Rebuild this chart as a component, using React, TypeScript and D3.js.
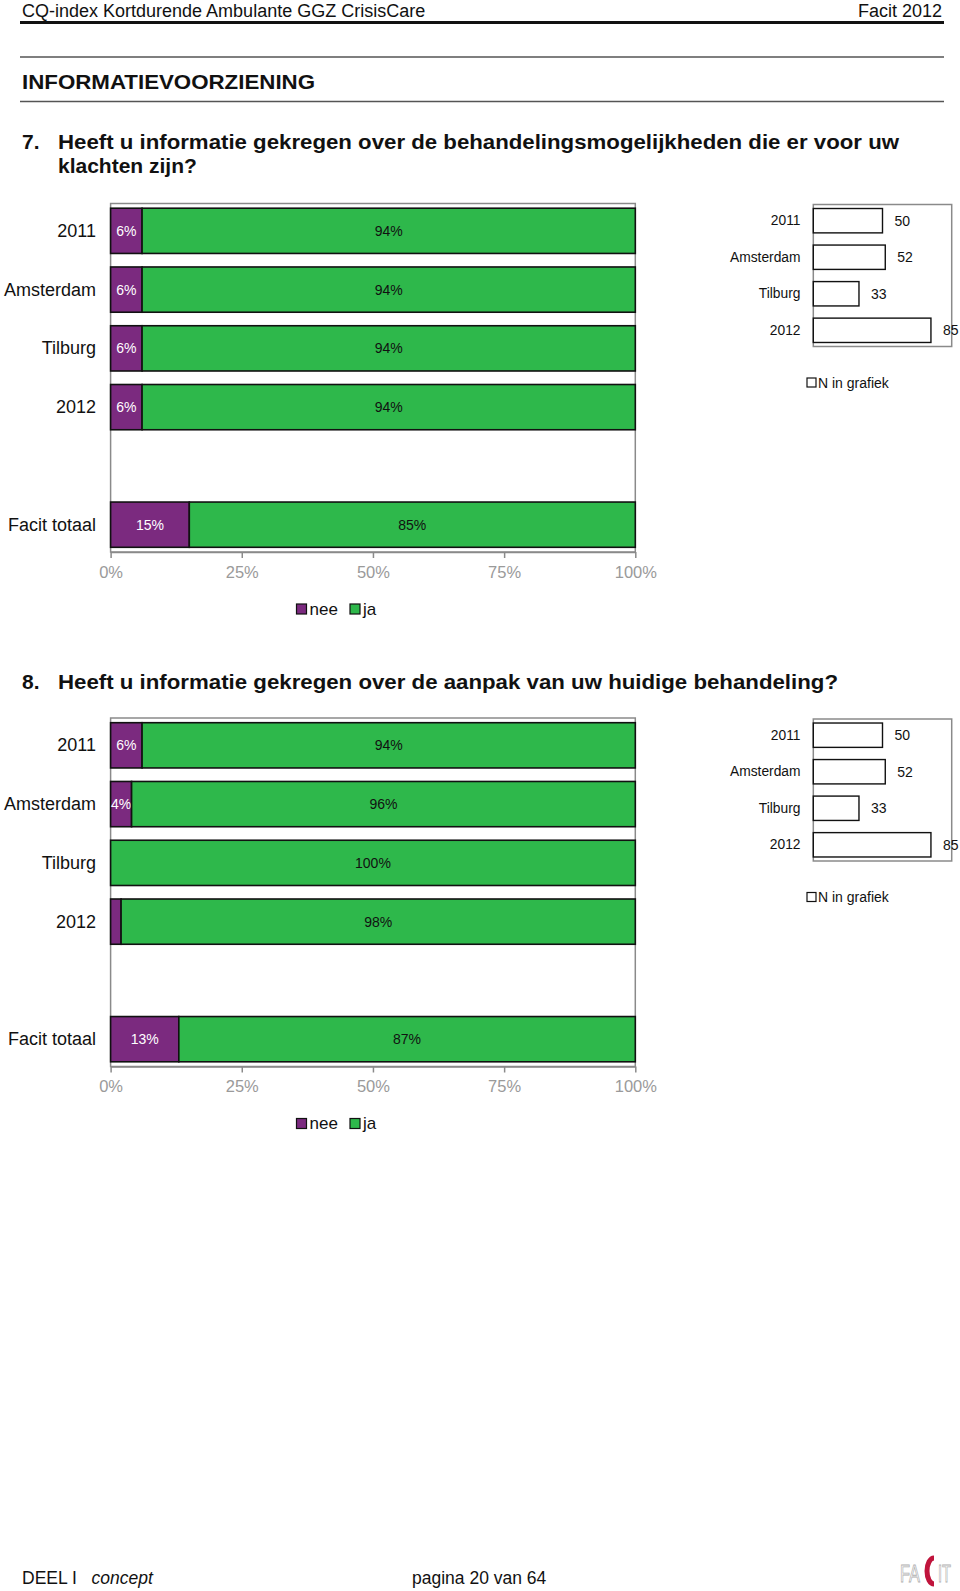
import React, { useRef, useEffect } from "react";
import * as d3 from "d3";

// rows of the stacked chart (the empty band between 2012 and Facit totaal is a spacer)
const categories = ["2011", "Amsterdam", "Tilburg", "2012", "Facit totaal"];
const bandDomain = ["2011", "Amsterdam", "Tilburg", "2012", "_gap", "Facit totaal"];
const seriesKeys = ["nee", "ja"];
const seriesColors = ["#7b2a7f", "#2eb84b"];
const labelColors = ["#ffffff", "#111111"];

const q7Nee = [6, 6, 6, 6, 15];
const q7Ja = [94, 94, 94, 94, 85];
const q8Nee = [6, 4, 0, 2, 13];
const q8Ja = [94, 96, 100, 98, 87];

// small N chart on the right
const nCategories = ["2011", "Amsterdam", "Tilburg", "2012"];
const q7N = [50, 52, 33, 85];
const q8N = [50, 52, 33, 85];

const xTicks = [0, 25, 50, 75, 100];

const FONT = "'Liberation Sans', Arial, Helvetica, sans-serif";

const StackedChart = ({ nee, ja }: { nee: number[]; ja: number[] }) => {
  const axisRef = useRef<SVGGElement>(null);

  const x = d3.scaleLinear().domain([0, 100]).range([110.6, 635.3]);
  const y = d3
    .scaleBand()
    .domain(bandDomain)
    .range([203.5, 552])
    .paddingInner(0.23)
    .paddingOuter(0.08);

  const rows = categories.map((c, i) => ({ cat: c, nee: nee[i], ja: ja[i] }));
  const stacked = d3.stack<any>().keys(seriesKeys)(rows);

  useEffect(() => {
    const g = d3.select(axisRef.current);
    g.selectAll("*").remove();
    g.call(
      d3
        .axisBottom(x)
        .tickValues(xTicks)
        .tickFormat((d) => d + "%")
        .tickSizeInner(6)
        .tickSizeOuter(0)
        .tickPadding(8)
    );
    g.attr("font-family", FONT).attr("font-size", 16.5);
    g.select(".domain").attr("stroke", "#8a8a8a").attr("stroke-width", 1.5);
    g.selectAll(".tick line").attr("stroke", "#8a8a8a").attr("stroke-width", 1.5);
    g.selectAll(".tick text").attr("fill", "#9a9a9a");
  }, [nee, ja]);

  const [x0, x1] = x.range();
  const [y0, y1] = y.range();

  return (
    <g>
      {/* plot frame */}
      <rect
        x={x0}
        y={y0}
        width={x1 - x0}
        height={y1 - y0}
        fill="none"
        stroke="#8a8a8a"
        strokeWidth={1.5}
      />
      {categories.map((c) => (
        <text
          key={c}
          x={96}
          y={(y(c) as number) + y.bandwidth() / 2}
          textAnchor="end"
          dominantBaseline="central"
          fontSize={18}
          fontFamily={FONT}
          fill="#111"
        >
          {c}
        </text>
      ))}
      {stacked.map((s, si) =>
        s.map((d: any, i) => {
          const v = d[1] - d[0];
          if (v <= 0) return null;
          const yy = y(categories[i]) as number;
          return (
            <g key={si + "-" + i}>
              <rect
                x={x(d[0])}
                y={yy}
                width={x(d[1]) - x(d[0])}
                height={y.bandwidth()}
                fill={seriesColors[si]}
                stroke="#111"
                strokeWidth={1.6}
              />
              {v >= 3 && (
                <text
                  x={(x(d[0]) + x(d[1])) / 2}
                  y={yy + y.bandwidth() / 2}
                  textAnchor="middle"
                  dominantBaseline="central"
                  fontSize={14}
                  fontFamily={FONT}
                  fill={labelColors[si]}
                >
                  {v + "%"}
                </text>
              )}
            </g>
          );
        })
      )}
      <g ref={axisRef} transform={`translate(0,${y1})`} />
      {/* legend */}
      {seriesKeys.map((k, i) => {
        const lx = [296.5, 350][i];
        return (
          <g key={k}>
            <rect
              x={lx}
              y={604}
              width={10}
              height={10}
              fill={seriesColors[i]}
              stroke="#111"
              strokeWidth={1.2}
            />
            <text
              x={lx + 13}
              y={609}
              dominantBaseline="central"
              fontSize={17}
              fontFamily={FONT}
              fill="#111"
            >
              {k}
            </text>
          </g>
        );
      })}
    </g>
  );
};

const NChart = ({ values }: { values: number[] }) => {
  const x = d3.scaleLinear().domain([0, 100]).range([813.3, 951.7]);
  const y = d3
    .scaleBand()
    .domain(nCategories)
    .range([204.5, 346.5])
    .paddingInner(1 / 3)
    .paddingOuter(0.11);
  const [x0, x1] = x.range();
  const [y0, y1] = y.range();
  return (
    <g fontFamily={FONT}>
      <rect
        x={x0}
        y={y0}
        width={x1 - x0}
        height={y1 - y0}
        fill="none"
        stroke="#8a8a8a"
        strokeWidth={1.5}
      />
      {nCategories.map((c, i) => {
        const yy = y(c) as number;
        const cy = yy + y.bandwidth() / 2;
        return (
          <g key={c}>
            <text
              x={800.5}
              y={cy}
              textAnchor="end"
              dominantBaseline="central"
              fontSize={13.8}
              fill="#111"
            >
              {c}
            </text>
            <rect
              x={x(0)}
              y={yy}
              width={x(values[i]) - x(0)}
              height={y.bandwidth()}
              fill="#fff"
              stroke="#111"
              strokeWidth={1.4}
            />
            <text
              x={x(values[i]) + 12}
              y={cy}
              dominantBaseline="central"
              fontSize={14}
              fill="#111"
            >
              {values[i]}
            </text>
          </g>
        );
      })}
      <rect x={807} y={378} width={9} height={9} fill="#fff" stroke="#111" strokeWidth={1.2} />
      <text x={818} y={382.6} dominantBaseline="central" fontSize={14} fill="#111">
        N in grafiek
      </text>
    </g>
  );
};

const App = () => {
  return (
    <svg
      width={960}
      height={1591}
      style={{ position: "absolute", left: 0, top: 0, background: "#fff" }}
      fontFamily={FONT}
    >
      <rect x={0} y={0} width={960} height={1591} fill="#fff" />
      {/* page header */}
      <text x={22} y={16.5} fontSize={18} fill="#111">
        CQ-index Kortdurende Ambulante GGZ CrisisCare
      </text>
      <text x={942} y={16.5} fontSize={18} fill="#111" textAnchor="end">
        Facit 2012
      </text>
      <line x1={20} x2={944} y1={22.5} y2={22.5} stroke="#111" strokeWidth={3} />
      <line x1={20} x2={944} y1={57} y2={57} stroke="#555" strokeWidth={1.5} />
      <text
        x={22}
        y={89}
        fontSize={21}
        fontWeight="bold"
        fill="#111"
        textLength={293}
        lengthAdjust="spacingAndGlyphs"
      >
        INFORMATIEVOORZIENING
      </text>
      <line x1={20} x2={944} y1={101.5} y2={101.5} stroke="#555" strokeWidth={1.5} />

      {/* question 7 */}
      <text x={22} y={148.5} fontSize={21} fontWeight="bold" fill="#111">
        7.
      </text>
      <text
        x={58}
        y={148.5}
        fontSize={21}
        fontWeight="bold"
        fill="#111"
        textLength={841}
        lengthAdjust="spacingAndGlyphs"
      >
        Heeft u informatie gekregen over de behandelingsmogelijkheden die er voor uw
      </text>
      <text x={58} y={173} fontSize={21} fontWeight="bold" fill="#111">
        klachten zijn?
      </text>
      <g>
        <StackedChart nee={q7Nee} ja={q7Ja} />
        <NChart values={q7N} />
      </g>

      {/* question 8 */}
      <text x={22} y={688.5} fontSize={21} fontWeight="bold" fill="#111">
        8.
      </text>
      <text
        x={58}
        y={688.5}
        fontSize={21}
        fontWeight="bold"
        fill="#111"
        textLength={780}
        lengthAdjust="spacingAndGlyphs"
      >
        Heeft u informatie gekregen over de aanpak van uw huidige behandeling?
      </text>
      <g transform="translate(0,514.5)">
        <StackedChart nee={q8Nee} ja={q8Ja} />
        <NChart values={q8N} />
      </g>

      {/* footer */}
      <text x={22} y={1584} fontSize={17.5} fill="#111">
        DEEL I{" "}
        <tspan fontStyle="italic" x={91.5}>
          concept
        </tspan>
      </text>
      <text x={412} y={1584} fontSize={17.5} fill="#111">
        pagina 20 van 64
      </text>
      {/* logo */}
      <text
        x={900}
        y={1582}
        fontSize={24}
        fill="#fff"
        stroke="#b0b0b0"
        strokeWidth={0.9}
        textLength={20}
        lengthAdjust="spacingAndGlyphs"
      >
        FA
      </text>
      <path
        d="M934,1558 A7,13 0 1 0 934,1584"
        fill="none"
        stroke="#c0143c"
        strokeWidth={5}
      />
      <text
        x={938}
        y={1582}
        fontSize={24}
        fill="#fff"
        stroke="#b0b0b0"
        strokeWidth={0.9}
        textLength={13}
        lengthAdjust="spacingAndGlyphs"
      >
        IT
      </text>
    </svg>
  );
};

export default App;
